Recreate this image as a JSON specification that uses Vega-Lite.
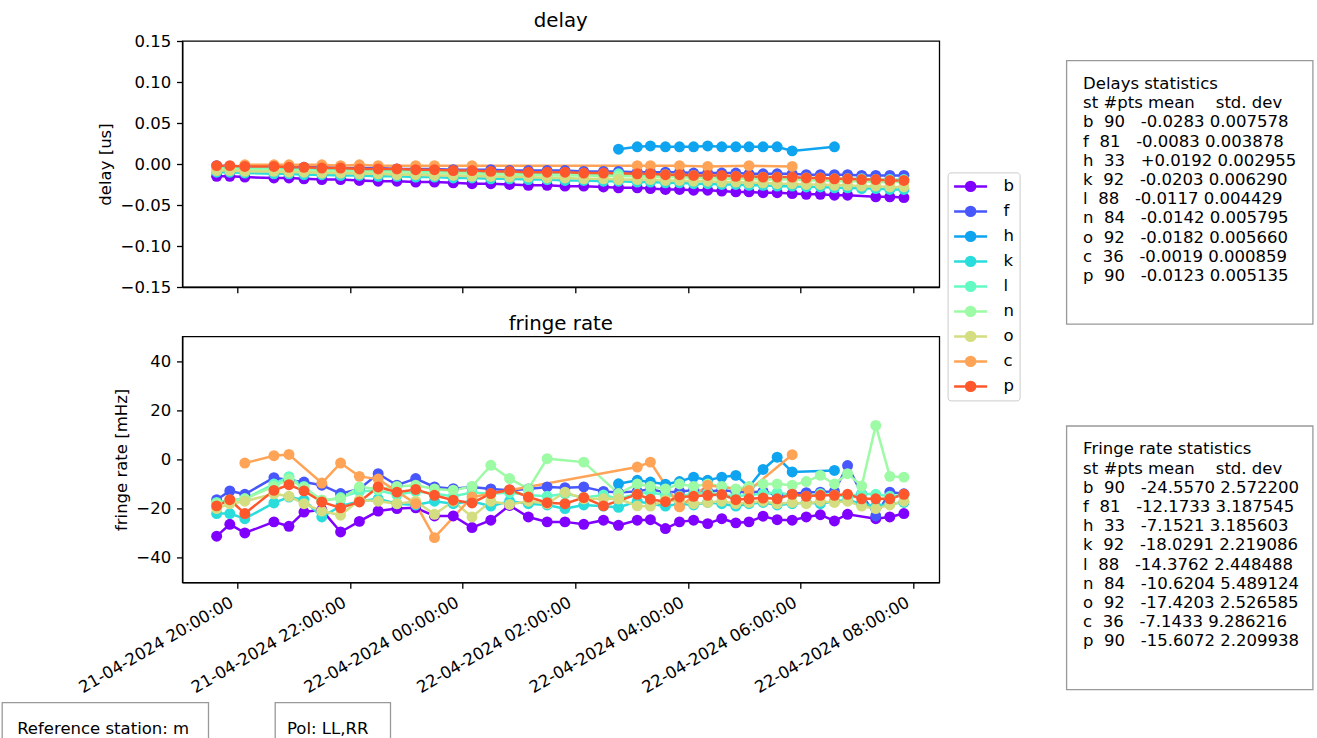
{
"$schema": "https://vega.github.io/schema/vega-lite/v6.json",
"padding": {"left": 1, "top": 10, "right": 0, "bottom": 0},
"spacing": 4.4,
"config": {
 "font": "DejaVu Sans",
 "view": {"stroke": null},
 "axis": {"grid": false, "domainColor": "black", "domainWidth": 1.3, "tickColor": "black", "tickWidth": 1.3, "tickSize": 5.8, "labelFontSize": 16.5, "labelColor": "black", "labelPadding": 5.8, "titleFontSize": 16.5, "titleFontWeight": "normal", "titleColor": "black", "titlePadding": 6.6},
 "title": {"fontSize": 19.8, "fontWeight": "normal", "color": "black", "offset": 2.4, "baseline": "alphabetic", "anchor": "middle"}
},
"datasets": {"obs": [
{"s":"b","t":"2024-04-21T19:38","d":-0.015,"r":-31.2},
{"s":"b","t":"2024-04-21T19:52","d":-0.015,"r":-26.4},
{"s":"b","t":"2024-04-21T20:08","d":-0.016,"r":-29.9},
{"s":"b","t":"2024-04-21T20:39","d":-0.017,"r":-25.4},
{"s":"b","t":"2024-04-21T20:55","d":-0.017,"r":-27.2},
{"s":"b","t":"2024-04-21T21:11","d":-0.018,"r":-21.4},
{"s":"b","t":"2024-04-21T21:30","d":-0.019,"r":-20.5},
{"s":"b","t":"2024-04-21T21:50","d":-0.019,"r":-29.5},
{"s":"b","t":"2024-04-21T22:10","d":-0.020,"r":-25.2},
{"s":"b","t":"2024-04-21T22:30","d":-0.021,"r":-21.0},
{"s":"b","t":"2024-04-21T22:50","d":-0.021,"r":-20.0},
{"s":"b","t":"2024-04-21T23:10","d":-0.022,"r":-19.7},
{"s":"b","t":"2024-04-21T23:30","d":-0.022,"r":-23.0},
{"s":"b","t":"2024-04-21T23:50","d":-0.023,"r":-23.0},
{"s":"b","t":"2024-04-22T00:10","d":-0.024,"r":-27.7},
{"s":"b","t":"2024-04-22T00:30","d":-0.024,"r":-24.7},
{"s":"b","t":"2024-04-22T00:50","d":-0.025,"r":-18.7},
{"s":"b","t":"2024-04-22T01:10","d":-0.026,"r":-23.4},
{"s":"b","t":"2024-04-22T01:30","d":-0.026,"r":-25.4},
{"s":"b","t":"2024-04-22T01:49","d":-0.027,"r":-25.4},
{"s":"b","t":"2024-04-22T02:09","d":-0.027,"r":-26.4},
{"s":"b","t":"2024-04-22T02:30","d":-0.028,"r":-24.7},
{"s":"b","t":"2024-04-22T02:46","d":-0.029,"r":-26.8},
{"s":"b","t":"2024-04-22T03:06","d":-0.029,"r":-24.7},
{"s":"b","t":"2024-04-22T03:20","d":-0.030,"r":-24.5},
{"s":"b","t":"2024-04-22T03:36","d":-0.031,"r":-28.1},
{"s":"b","t":"2024-04-22T03:51","d":-0.031,"r":-25.4},
{"s":"b","t":"2024-04-22T04:06","d":-0.032,"r":-24.7},
{"s":"b","t":"2024-04-22T04:21","d":-0.032,"r":-26.1},
{"s":"b","t":"2024-04-22T04:36","d":-0.033,"r":-24.1},
{"s":"b","t":"2024-04-22T04:51","d":-0.034,"r":-25.8},
{"s":"b","t":"2024-04-22T05:05","d":-0.034,"r":-25.4},
{"s":"b","t":"2024-04-22T05:20","d":-0.035,"r":-23.1},
{"s":"b","t":"2024-04-22T05:35","d":-0.035,"r":-24.5},
{"s":"b","t":"2024-04-22T05:51","d":-0.036,"r":-24.7},
{"s":"b","t":"2024-04-22T06:06","d":-0.037,"r":-23.4},
{"s":"b","t":"2024-04-22T06:21","d":-0.037,"r":-22.5},
{"s":"b","t":"2024-04-22T06:36","d":-0.038,"r":-25.0},
{"s":"b","t":"2024-04-22T06:50","d":-0.038,"r":-22.3},
{"s":"b","t":"2024-04-22T07:20","d":-0.040,"r":-24.1},
{"s":"b","t":"2024-04-22T07:35","d":-0.040,"r":-23.4},
{"s":"b","t":"2024-04-22T07:50","d":-0.041,"r":-22.0},
{"s":"f","t":"2024-04-21T19:38","d":-0.002,"r":-16.4},
{"s":"f","t":"2024-04-21T19:52","d":-0.003,"r":-12.8},
{"s":"f","t":"2024-04-21T20:08","d":-0.003,"r":-14.2},
{"s":"f","t":"2024-04-21T20:39","d":-0.003,"r":-7.4},
{"s":"f","t":"2024-04-21T20:55","d":-0.004,"r":-8.5},
{"s":"f","t":"2024-04-21T21:11","d":-0.004,"r":-9.2},
{"s":"f","t":"2024-04-21T21:30","d":-0.004,"r":-10.5},
{"s":"f","t":"2024-04-21T21:50","d":-0.005,"r":-13.9},
{"s":"f","t":"2024-04-21T22:10","d":-0.005,"r":-12.0},
{"s":"f","t":"2024-04-21T22:30","d":-0.005,"r":-5.8},
{"s":"f","t":"2024-04-21T22:50","d":-0.006,"r":-10.5},
{"s":"f","t":"2024-04-21T23:10","d":-0.006,"r":-7.8},
{"s":"f","t":"2024-04-21T23:30","d":-0.006,"r":-11.2},
{"s":"f","t":"2024-04-21T23:50","d":-0.007,"r":-11.9},
{"s":"f","t":"2024-04-22T00:10","d":-0.007,"r":-11.2},
{"s":"f","t":"2024-04-22T00:30","d":-0.007,"r":-12.0},
{"s":"f","t":"2024-04-22T00:50","d":-0.008,"r":-12.5},
{"s":"f","t":"2024-04-22T01:10","d":-0.008,"r":-12.0},
{"s":"f","t":"2024-04-22T01:30","d":-0.008,"r":-11.2},
{"s":"f","t":"2024-04-22T01:49","d":-0.008,"r":-11.5},
{"s":"f","t":"2024-04-22T02:09","d":-0.009,"r":-11.2},
{"s":"f","t":"2024-04-22T02:30","d":-0.009,"r":-13.0},
{"s":"f","t":"2024-04-22T02:46","d":-0.009,"r":-13.5},
{"s":"f","t":"2024-04-22T03:06","d":-0.010,"r":-13.0},
{"s":"f","t":"2024-04-22T03:20","d":-0.010,"r":-12.0},
{"s":"f","t":"2024-04-22T03:36","d":-0.010,"r":-13.5},
{"s":"f","t":"2024-04-22T03:51","d":-0.010,"r":-13.0},
{"s":"f","t":"2024-04-22T04:06","d":-0.011,"r":-12.5},
{"s":"f","t":"2024-04-22T04:21","d":-0.011,"r":-13.0},
{"s":"f","t":"2024-04-22T04:36","d":-0.011,"r":-12.5},
{"s":"f","t":"2024-04-22T04:51","d":-0.011,"r":-13.0},
{"s":"f","t":"2024-04-22T05:05","d":-0.012,"r":-13.5},
{"s":"f","t":"2024-04-22T05:20","d":-0.012,"r":-13.0},
{"s":"f","t":"2024-04-22T05:35","d":-0.012,"r":-14.5},
{"s":"f","t":"2024-04-22T05:51","d":-0.012,"r":-14.0},
{"s":"f","t":"2024-04-22T06:06","d":-0.013,"r":-13.5},
{"s":"f","t":"2024-04-22T06:21","d":-0.013,"r":-13.3},
{"s":"f","t":"2024-04-22T06:36","d":-0.013,"r":-13.0},
{"s":"f","t":"2024-04-22T06:50","d":-0.013,"r":-2.5},
{"s":"f","t":"2024-04-22T07:05","d":-0.014,"r":-14.0},
{"s":"f","t":"2024-04-22T07:20","d":-0.014,"r":-23.0},
{"s":"f","t":"2024-04-22T07:35","d":-0.014,"r":-13.3},
{"s":"f","t":"2024-04-22T07:50","d":-0.014,"r":-14.0},
{"s":"h","t":"2024-04-22T02:46","d":0.018,"r":-9.9},
{"s":"h","t":"2024-04-22T03:06","d":0.021,"r":-8.5},
{"s":"h","t":"2024-04-22T03:20","d":0.022,"r":-9.2},
{"s":"h","t":"2024-04-22T03:36","d":0.021,"r":-10.1},
{"s":"h","t":"2024-04-22T03:51","d":0.021,"r":-9.0},
{"s":"h","t":"2024-04-22T04:06","d":0.021,"r":-7.2},
{"s":"h","t":"2024-04-22T04:21","d":0.022,"r":-8.5},
{"s":"h","t":"2024-04-22T04:36","d":0.021,"r":-7.2},
{"s":"h","t":"2024-04-22T04:51","d":0.021,"r":-6.5},
{"s":"h","t":"2024-04-22T05:05","d":0.021,"r":-11.2},
{"s":"h","t":"2024-04-22T05:20","d":0.021,"r":-4.1},
{"s":"h","t":"2024-04-22T05:35","d":0.021,"r":0.9},
{"s":"h","t":"2024-04-22T05:51","d":0.016,"r":-5.1},
{"s":"h","t":"2024-04-22T06:36","d":0.021,"r":-4.5},
{"s":"k","t":"2024-04-21T19:38","d":-0.010,"r":-22.0},
{"s":"k","t":"2024-04-21T19:52","d":-0.010,"r":-22.0},
{"s":"k","t":"2024-04-21T20:08","d":-0.011,"r":-24.1},
{"s":"k","t":"2024-04-21T20:39","d":-0.012,"r":-17.7},
{"s":"k","t":"2024-04-21T20:55","d":-0.012,"r":-15.3},
{"s":"k","t":"2024-04-21T21:11","d":-0.013,"r":-16.5},
{"s":"k","t":"2024-04-21T21:30","d":-0.013,"r":-23.4},
{"s":"k","t":"2024-04-21T21:50","d":-0.014,"r":-19.0},
{"s":"k","t":"2024-04-21T22:10","d":-0.014,"r":-17.0},
{"s":"k","t":"2024-04-21T22:30","d":-0.015,"r":-16.0},
{"s":"k","t":"2024-04-21T22:50","d":-0.015,"r":-18.0},
{"s":"k","t":"2024-04-21T23:10","d":-0.016,"r":-18.5},
{"s":"k","t":"2024-04-21T23:30","d":-0.016,"r":-17.0},
{"s":"k","t":"2024-04-21T23:50","d":-0.017,"r":-18.0},
{"s":"k","t":"2024-04-22T00:10","d":-0.017,"r":-17.0},
{"s":"k","t":"2024-04-22T00:30","d":-0.018,"r":-19.0},
{"s":"k","t":"2024-04-22T00:50","d":-0.018,"r":-17.0},
{"s":"k","t":"2024-04-22T01:10","d":-0.019,"r":-18.0},
{"s":"k","t":"2024-04-22T01:30","d":-0.019,"r":-18.5},
{"s":"k","t":"2024-04-22T01:49","d":-0.020,"r":-20.0},
{"s":"k","t":"2024-04-22T02:09","d":-0.020,"r":-18.5},
{"s":"k","t":"2024-04-22T02:30","d":-0.021,"r":-19.0},
{"s":"k","t":"2024-04-22T02:46","d":-0.021,"r":-19.5},
{"s":"k","t":"2024-04-22T03:06","d":-0.022,"r":-17.0},
{"s":"k","t":"2024-04-22T03:20","d":-0.022,"r":-18.0},
{"s":"k","t":"2024-04-22T03:36","d":-0.023,"r":-19.0},
{"s":"k","t":"2024-04-22T03:51","d":-0.023,"r":-18.0},
{"s":"k","t":"2024-04-22T04:06","d":-0.024,"r":-18.5},
{"s":"k","t":"2024-04-22T04:21","d":-0.024,"r":-17.5},
{"s":"k","t":"2024-04-22T04:36","d":-0.025,"r":-18.0},
{"s":"k","t":"2024-04-22T04:51","d":-0.025,"r":-19.0},
{"s":"k","t":"2024-04-22T05:05","d":-0.026,"r":-18.0},
{"s":"k","t":"2024-04-22T05:20","d":-0.026,"r":-17.5},
{"s":"k","t":"2024-04-22T05:35","d":-0.027,"r":-18.5},
{"s":"k","t":"2024-04-22T05:51","d":-0.027,"r":-18.0},
{"s":"k","t":"2024-04-22T06:06","d":-0.028,"r":-17.5},
{"s":"k","t":"2024-04-22T06:21","d":-0.028,"r":-18.0},
{"s":"k","t":"2024-04-22T06:36","d":-0.029,"r":-17.0},
{"s":"k","t":"2024-04-22T06:50","d":-0.029,"r":-16.5},
{"s":"k","t":"2024-04-22T07:05","d":-0.030,"r":-18.0},
{"s":"k","t":"2024-04-22T07:20","d":-0.030,"r":-19.0},
{"s":"k","t":"2024-04-22T07:35","d":-0.031,"r":-18.0},
{"s":"k","t":"2024-04-22T07:50","d":-0.031,"r":-17.5},
{"s":"l","t":"2024-04-21T19:38","d":-0.004,"r":-17.5},
{"s":"l","t":"2024-04-21T19:52","d":-0.004,"r":-16.5},
{"s":"l","t":"2024-04-21T20:08","d":-0.005,"r":-16.0},
{"s":"l","t":"2024-04-21T20:39","d":-0.005,"r":-10.0},
{"s":"l","t":"2024-04-21T20:55","d":-0.006,"r":-7.0},
{"s":"l","t":"2024-04-21T21:11","d":-0.006,"r":-11.0},
{"s":"l","t":"2024-04-21T21:30","d":-0.006,"r":-17.0},
{"s":"l","t":"2024-04-21T21:50","d":-0.007,"r":-15.5},
{"s":"l","t":"2024-04-21T22:10","d":-0.007,"r":-13.0},
{"s":"l","t":"2024-04-21T22:30","d":-0.008,"r":-12.5},
{"s":"l","t":"2024-04-21T22:50","d":-0.008,"r":-14.5},
{"s":"l","t":"2024-04-21T23:10","d":-0.008,"r":-13.0},
{"s":"l","t":"2024-04-21T23:30","d":-0.009,"r":-14.0},
{"s":"l","t":"2024-04-21T23:50","d":-0.009,"r":-15.0},
{"s":"l","t":"2024-04-22T00:10","d":-0.009,"r":-13.5},
{"s":"l","t":"2024-04-22T00:30","d":-0.010,"r":-14.0},
{"s":"l","t":"2024-04-22T00:50","d":-0.010,"r":-13.5},
{"s":"l","t":"2024-04-22T01:10","d":-0.011,"r":-14.5},
{"s":"l","t":"2024-04-22T01:30","d":-0.011,"r":-15.0},
{"s":"l","t":"2024-04-22T01:49","d":-0.011,"r":-14.0},
{"s":"l","t":"2024-04-22T02:09","d":-0.012,"r":-15.5},
{"s":"l","t":"2024-04-22T02:30","d":-0.012,"r":-14.5},
{"s":"l","t":"2024-04-22T02:46","d":-0.012,"r":-16.0},
{"s":"l","t":"2024-04-22T03:06","d":-0.013,"r":-14.0},
{"s":"l","t":"2024-04-22T03:20","d":-0.013,"r":-13.5},
{"s":"l","t":"2024-04-22T03:36","d":-0.013,"r":-14.5},
{"s":"l","t":"2024-04-22T03:51","d":-0.014,"r":-15.0},
{"s":"l","t":"2024-04-22T04:06","d":-0.014,"r":-14.0},
{"s":"l","t":"2024-04-22T04:21","d":-0.015,"r":-13.5},
{"s":"l","t":"2024-04-22T04:36","d":-0.015,"r":-14.5},
{"s":"l","t":"2024-04-22T04:51","d":-0.015,"r":-15.0},
{"s":"l","t":"2024-04-22T05:05","d":-0.016,"r":-14.5},
{"s":"l","t":"2024-04-22T05:20","d":-0.016,"r":-14.0},
{"s":"l","t":"2024-04-22T05:35","d":-0.016,"r":-13.5},
{"s":"l","t":"2024-04-22T05:51","d":-0.017,"r":-14.5},
{"s":"l","t":"2024-04-22T06:06","d":-0.017,"r":-15.0},
{"s":"l","t":"2024-04-22T06:21","d":-0.017,"r":-14.0},
{"s":"l","t":"2024-04-22T06:36","d":-0.018,"r":-14.5},
{"s":"l","t":"2024-04-22T06:50","d":-0.018,"r":-15.0},
{"s":"l","t":"2024-04-22T07:05","d":-0.018,"r":-14.0},
{"s":"l","t":"2024-04-22T07:20","d":-0.019,"r":-14.2},
{"s":"l","t":"2024-04-22T07:35","d":-0.019,"r":-15.0},
{"s":"l","t":"2024-04-22T07:50","d":-0.019,"r":-14.5},
{"s":"n","t":"2024-04-21T19:38","d":-0.006,"r":-18.0},
{"s":"n","t":"2024-04-21T19:52","d":-0.006,"r":-17.0},
{"s":"n","t":"2024-04-21T20:08","d":-0.007,"r":-16.0},
{"s":"n","t":"2024-04-21T20:39","d":-0.007,"r":-11.0},
{"s":"n","t":"2024-04-21T20:55","d":-0.008,"r":-8.0},
{"s":"n","t":"2024-04-21T21:11","d":-0.008,"r":-11.5},
{"s":"n","t":"2024-04-21T21:30","d":-0.009,"r":-16.5},
{"s":"n","t":"2024-04-21T21:50","d":-0.009,"r":-16.0},
{"s":"n","t":"2024-04-21T22:10","d":-0.009,"r":-11.2},
{"s":"n","t":"2024-04-21T22:30","d":-0.010,"r":-12.0},
{"s":"n","t":"2024-04-21T22:50","d":-0.010,"r":-11.0},
{"s":"n","t":"2024-04-21T23:10","d":-0.011,"r":-10.5},
{"s":"n","t":"2024-04-21T23:30","d":-0.011,"r":-12.0},
{"s":"n","t":"2024-04-21T23:50","d":-0.011,"r":-12.5},
{"s":"n","t":"2024-04-22T00:10","d":-0.012,"r":-11.0},
{"s":"n","t":"2024-04-22T00:30","d":-0.012,"r":-2.4},
{"s":"n","t":"2024-04-22T00:50","d":-0.013,"r":-7.8},
{"s":"n","t":"2024-04-22T01:10","d":-0.013,"r":-12.0},
{"s":"n","t":"2024-04-22T01:30","d":-0.014,"r":0.3},
{"s":"n","t":"2024-04-22T02:09","d":-0.014,"r":-1.1},
{"s":"n","t":"2024-04-22T02:46","d":-0.015,"r":-13.9},
{"s":"n","t":"2024-04-22T03:06","d":-0.015,"r":-10.0},
{"s":"n","t":"2024-04-22T03:20","d":-0.016,"r":-11.0},
{"s":"n","t":"2024-04-22T03:36","d":-0.016,"r":-12.0},
{"s":"n","t":"2024-04-22T03:51","d":-0.016,"r":-10.0},
{"s":"n","t":"2024-04-22T04:06","d":-0.017,"r":-11.0},
{"s":"n","t":"2024-04-22T04:21","d":-0.017,"r":-10.0},
{"s":"n","t":"2024-04-22T04:36","d":-0.018,"r":-11.0},
{"s":"n","t":"2024-04-22T04:51","d":-0.018,"r":-12.0},
{"s":"n","t":"2024-04-22T05:05","d":-0.018,"r":-11.0},
{"s":"n","t":"2024-04-22T05:20","d":-0.019,"r":-10.0},
{"s":"n","t":"2024-04-22T05:35","d":-0.019,"r":-10.0},
{"s":"n","t":"2024-04-22T05:51","d":-0.019,"r":-10.5},
{"s":"n","t":"2024-04-22T06:06","d":-0.020,"r":-9.0},
{"s":"n","t":"2024-04-22T06:21","d":-0.020,"r":-6.5},
{"s":"n","t":"2024-04-22T06:36","d":-0.021,"r":-10.0},
{"s":"n","t":"2024-04-22T06:50","d":-0.021,"r":-5.8},
{"s":"n","t":"2024-04-22T07:05","d":-0.021,"r":-10.8},
{"s":"n","t":"2024-04-22T07:20","d":-0.022,"r":13.8},
{"s":"n","t":"2024-04-22T07:35","d":-0.022,"r":-6.9},
{"s":"n","t":"2024-04-22T07:50","d":-0.022,"r":-7.2},
{"s":"o","t":"2024-04-21T19:38","d":-0.008,"r":-20.0},
{"s":"o","t":"2024-04-21T19:52","d":-0.008,"r":-18.0},
{"s":"o","t":"2024-04-21T20:08","d":-0.009,"r":-17.0},
{"s":"o","t":"2024-04-21T20:39","d":-0.009,"r":-14.0},
{"s":"o","t":"2024-04-21T20:55","d":-0.010,"r":-15.0},
{"s":"o","t":"2024-04-21T21:11","d":-0.010,"r":-18.0},
{"s":"o","t":"2024-04-21T21:30","d":-0.011,"r":-21.0},
{"s":"o","t":"2024-04-21T21:50","d":-0.011,"r":-22.7},
{"s":"o","t":"2024-04-21T22:10","d":-0.012,"r":-16.5},
{"s":"o","t":"2024-04-21T22:30","d":-0.012,"r":-17.0},
{"s":"o","t":"2024-04-21T22:50","d":-0.013,"r":-18.0},
{"s":"o","t":"2024-04-21T23:10","d":-0.013,"r":-17.0},
{"s":"o","t":"2024-04-21T23:30","d":-0.014,"r":-22.3},
{"s":"o","t":"2024-04-21T23:50","d":-0.014,"r":-17.0},
{"s":"o","t":"2024-04-22T00:10","d":-0.015,"r":-23.4},
{"s":"o","t":"2024-04-22T00:30","d":-0.015,"r":-17.0},
{"s":"o","t":"2024-04-22T00:50","d":-0.016,"r":-18.3},
{"s":"o","t":"2024-04-22T01:10","d":-0.016,"r":-17.0},
{"s":"o","t":"2024-04-22T01:30","d":-0.017,"r":-18.0},
{"s":"o","t":"2024-04-22T01:49","d":-0.017,"r":-13.3},
{"s":"o","t":"2024-04-22T02:09","d":-0.018,"r":-16.0},
{"s":"o","t":"2024-04-22T02:30","d":-0.018,"r":-16.0},
{"s":"o","t":"2024-04-22T02:46","d":-0.019,"r":-16.0},
{"s":"o","t":"2024-04-22T03:06","d":-0.019,"r":-18.9},
{"s":"o","t":"2024-04-22T03:20","d":-0.019,"r":-19.0},
{"s":"o","t":"2024-04-22T03:36","d":-0.020,"r":-16.5},
{"s":"o","t":"2024-04-22T03:51","d":-0.020,"r":-17.0},
{"s":"o","t":"2024-04-22T04:06","d":-0.021,"r":-18.0},
{"s":"o","t":"2024-04-22T04:21","d":-0.021,"r":-17.5},
{"s":"o","t":"2024-04-22T04:36","d":-0.022,"r":-17.0},
{"s":"o","t":"2024-04-22T04:51","d":-0.022,"r":-18.0},
{"s":"o","t":"2024-04-22T05:05","d":-0.023,"r":-17.5},
{"s":"o","t":"2024-04-22T05:20","d":-0.023,"r":-17.0},
{"s":"o","t":"2024-04-22T05:35","d":-0.024,"r":-18.0},
{"s":"o","t":"2024-04-22T05:51","d":-0.024,"r":-17.5},
{"s":"o","t":"2024-04-22T06:06","d":-0.025,"r":-18.0},
{"s":"o","t":"2024-04-22T06:21","d":-0.025,"r":-17.0},
{"s":"o","t":"2024-04-22T06:36","d":-0.026,"r":-17.5},
{"s":"o","t":"2024-04-22T06:50","d":-0.026,"r":-17.0},
{"s":"o","t":"2024-04-22T07:05","d":-0.027,"r":-19.0},
{"s":"o","t":"2024-04-22T07:20","d":-0.027,"r":-20.0},
{"s":"o","t":"2024-04-22T07:35","d":-0.028,"r":-18.5},
{"s":"o","t":"2024-04-22T07:50","d":-0.028,"r":-17.0},
{"s":"c","t":"2024-04-21T20:08","d":-0.001,"r":-1.5},
{"s":"c","t":"2024-04-21T20:39","d":-0.001,"r":1.5},
{"s":"c","t":"2024-04-21T20:55","d":-0.001,"r":2.0},
{"s":"c","t":"2024-04-21T21:30","d":-0.001,"r":-9.6},
{"s":"c","t":"2024-04-21T21:50","d":-0.002,"r":-1.5},
{"s":"c","t":"2024-04-21T22:10","d":-0.001,"r":-6.9},
{"s":"c","t":"2024-04-21T22:30","d":-0.002,"r":-8.0},
{"s":"c","t":"2024-04-21T23:10","d":-0.002,"r":-18.0},
{"s":"c","t":"2024-04-21T23:30","d":-0.002,"r":-31.8},
{"s":"c","t":"2024-04-22T00:10","d":-0.002,"r":-15.3},
{"s":"c","t":"2024-04-22T03:06","d":-0.002,"r":-3.1},
{"s":"c","t":"2024-04-22T03:20","d":-0.002,"r":-1.1},
{"s":"c","t":"2024-04-22T03:51","d":-0.002,"r":-19.3},
{"s":"c","t":"2024-04-22T04:21","d":-0.003,"r":-10.5},
{"s":"c","t":"2024-04-22T05:05","d":-0.002,"r":-12.6},
{"s":"c","t":"2024-04-22T05:51","d":-0.003,"r":1.9},
{"s":"p","t":"2024-04-21T19:38","d":-0.002,"r":-18.9},
{"s":"p","t":"2024-04-21T19:52","d":-0.002,"r":-16.4},
{"s":"p","t":"2024-04-21T20:08","d":-0.003,"r":-22.0},
{"s":"p","t":"2024-04-21T20:39","d":-0.003,"r":-12.6},
{"s":"p","t":"2024-04-21T20:55","d":-0.004,"r":-10.3},
{"s":"p","t":"2024-04-21T21:11","d":-0.004,"r":-12.8},
{"s":"p","t":"2024-04-21T21:30","d":-0.005,"r":-17.3},
{"s":"p","t":"2024-04-21T21:50","d":-0.005,"r":-19.7},
{"s":"p","t":"2024-04-21T22:10","d":-0.006,"r":-17.3},
{"s":"p","t":"2024-04-21T22:30","d":-0.006,"r":-11.2},
{"s":"p","t":"2024-04-21T22:50","d":-0.006,"r":-13.3},
{"s":"p","t":"2024-04-21T23:10","d":-0.007,"r":-12.2},
{"s":"p","t":"2024-04-21T23:30","d":-0.007,"r":-14.6},
{"s":"p","t":"2024-04-21T23:50","d":-0.008,"r":-16.6},
{"s":"p","t":"2024-04-22T00:10","d":-0.008,"r":-17.7},
{"s":"p","t":"2024-04-22T00:30","d":-0.009,"r":-13.9},
{"s":"p","t":"2024-04-22T00:50","d":-0.009,"r":-12.3},
{"s":"p","t":"2024-04-22T01:10","d":-0.010,"r":-15.3},
{"s":"p","t":"2024-04-22T01:30","d":-0.010,"r":-17.6},
{"s":"p","t":"2024-04-22T01:49","d":-0.010,"r":-18.0},
{"s":"p","t":"2024-04-22T02:09","d":-0.011,"r":-15.5},
{"s":"p","t":"2024-04-22T02:30","d":-0.011,"r":-18.9},
{"s":"p","t":"2024-04-22T03:06","d":-0.012,"r":-14.2},
{"s":"p","t":"2024-04-22T03:20","d":-0.012,"r":-16.2},
{"s":"p","t":"2024-04-22T03:36","d":-0.013,"r":-17.2},
{"s":"p","t":"2024-04-22T03:51","d":-0.013,"r":-15.3},
{"s":"p","t":"2024-04-22T04:06","d":-0.014,"r":-15.0},
{"s":"p","t":"2024-04-22T04:21","d":-0.014,"r":-14.6},
{"s":"p","t":"2024-04-22T04:36","d":-0.014,"r":-14.3},
{"s":"p","t":"2024-04-22T04:51","d":-0.015,"r":-16.4},
{"s":"p","t":"2024-04-22T05:05","d":-0.015,"r":-16.0},
{"s":"p","t":"2024-04-22T05:20","d":-0.016,"r":-15.7},
{"s":"p","t":"2024-04-22T05:35","d":-0.016,"r":-16.0},
{"s":"p","t":"2024-04-22T05:51","d":-0.016,"r":-14.2},
{"s":"p","t":"2024-04-22T06:06","d":-0.017,"r":-15.0},
{"s":"p","t":"2024-04-22T06:21","d":-0.017,"r":-14.6},
{"s":"p","t":"2024-04-22T06:36","d":-0.018,"r":-14.6},
{"s":"p","t":"2024-04-22T06:50","d":-0.018,"r":-14.2},
{"s":"p","t":"2024-04-22T07:05","d":-0.019,"r":-16.0},
{"s":"p","t":"2024-04-22T07:20","d":-0.019,"r":-16.0},
{"s":"p","t":"2024-04-22T07:35","d":-0.020,"r":-16.0},
{"s":"p","t":"2024-04-22T07:50","d":-0.020,"r":-14.2}
]},
"vconcat": [
 {"spacing": 72.3, "hconcat": [
  {"width": 1, "height": 1, "data": {"values": [{}]}, "mark": {"type": "text", "text": ""}},
  {"spacing": 125.1, "hconcat": [
   {"spacing": 49.4, "bounds": "flush", "vconcat": [
    {
     "width": 757, "height": 246,
     "title": {"text": "delay"},
     "view": {"stroke": "black", "strokeWidth": 1.3},
     "data": {"name": "obs"},
     "mark": {"type": "line", "strokeWidth": 2.5, "point": {"filled": true, "size": 120, "opacity": 1}},
     "encoding": {
      "x": {"field": "t", "type": "temporal",
            "scale": {"domain": [{"year":2024,"month":4,"date":21,"hours":19,"minutes":1,"seconds":24},{"year":2024,"month":4,"date":22,"hours":8,"minutes":27,"seconds":42}]},
            "axis": {"title": null, "labels": false,
                     "values": [{"year":2024,"month":4,"date":21,"hours":20},{"year":2024,"month":4,"date":21,"hours":22},{"year":2024,"month":4,"date":22,"hours":0},{"year":2024,"month":4,"date":22,"hours":2},{"year":2024,"month":4,"date":22,"hours":4},{"year":2024,"month":4,"date":22,"hours":6},{"year":2024,"month":4,"date":22,"hours":8}]}},
      "y": {"field": "d", "type": "quantitative", "scale": {"domain": [-0.15, 0.15], "nice": false},
            "axis": {"title": "delay [us]", "values": [-0.15, -0.1, -0.05, 0, 0.05, 0.1, 0.15], "format": ".2f"}},
      "color": {"field": "s", "type": "nominal",
                "scale": {"domain": ["b","f","h","k","l","n","o","c","p"], "range": ["#8000ff","#4757fb","#0ea4f0","#2adddd","#63fbc3","#9cfba4","#d4dd80","#ffa457","#ff572c"]},
                "legend": {"orient": "none", "legendX": 945.6, "legendY": 131.4, "title": null, "padding": 5, "strokeColor": "#cccccc", "fillColor": "white", "cornerRadius": 3,
                           "symbolType": "M-1,0L1,0M0.27,0A0.27,0.27,0,1,1,-0.27,0A0.27,0.27,0,1,1,0.27,0", "symbolSize": 1089, "symbolStrokeWidth": 2.5,
                           "clipHeight": 18, "rowPadding": 7, "labelFontSize": 16.5, "labelColor": "black", "labelOffset": 15,
                           "encode": {"symbols": {"update": {"fill": {"scale": "color", "field": "value"}, "stroke": {"scale": "color", "field": "value"}, "opacity": {"value": 1}}}}}}
     }
    },
    {
     "width": 757, "height": 246,
     "title": {"text": "fringe rate"},
     "view": {"stroke": "black", "strokeWidth": 1.3},
     "data": {"name": "obs"},
     "mark": {"type": "line", "strokeWidth": 2.5, "point": {"filled": true, "size": 120, "opacity": 1}},
     "encoding": {
      "x": {"field": "t", "type": "temporal",
            "scale": {"domain": [{"year":2024,"month":4,"date":21,"hours":19,"minutes":1,"seconds":24},{"year":2024,"month":4,"date":22,"hours":8,"minutes":27,"seconds":42}]},
            "axis": {"title": null, "format": "%d-%m-%Y %H:%M:%S", "labelAngle": -30, "labelAlign": "right", "labelBaseline": "top", "labelOffset": -9.6, "labelOverlap": false, "labelFlush": false, "labelLimit": 400,
                     "values": [{"year":2024,"month":4,"date":21,"hours":20},{"year":2024,"month":4,"date":21,"hours":22},{"year":2024,"month":4,"date":22,"hours":0},{"year":2024,"month":4,"date":22,"hours":2},{"year":2024,"month":4,"date":22,"hours":4},{"year":2024,"month":4,"date":22,"hours":6},{"year":2024,"month":4,"date":22,"hours":8}]}},
      "y": {"field": "r", "type": "quantitative", "scale": {"domain": [-50, 50], "nice": false},
            "axis": {"title": "fringe rate [mHz]", "values": [-40, -20, 0, 20, 40]}},
      "color": {"field": "s", "type": "nominal",
                "scale": {"domain": ["b","f","h","k","l","n","o","c","p"], "range": ["#8000ff","#4757fb","#0ea4f0","#2adddd","#63fbc3","#9cfba4","#d4dd80","#ffa457","#ff572c"]},
                "legend": {"orient": "none", "legendX": 945.6, "legendY": 131.4, "title": null, "padding": 5, "strokeColor": "#cccccc", "fillColor": "white", "cornerRadius": 3,
                           "symbolType": "M-1,0L1,0M0.27,0A0.27,0.27,0,1,1,-0.27,0A0.27,0.27,0,1,1,0.27,0", "symbolSize": 1089, "symbolStrokeWidth": 2.5,
                           "clipHeight": 18, "rowPadding": 7, "labelFontSize": 16.5, "labelColor": "black", "labelOffset": 15,
                           "encode": {"symbols": {"update": {"fill": {"scale": "color", "field": "value"}, "stroke": {"scale": "color", "field": "value"}, "opacity": {"value": 1}}}}}}
     }
    }
   ]},
   {"spacing": 18.4, "bounds": "flush", "vconcat": [
    {"width": 1, "height": 1, "data": {"values": [{}]}, "mark": {"type": "text", "text": ""}},
    {"spacing": 101.4, "bounds": "flush", "vconcat": [
     {
      "width": 246.3, "height": 263.6,
      "view": {"stroke": "#999999", "strokeWidth": 1.3, "fill": "white"},
      "data": {"values": [
       {"i": 0, "txt": "Delays statistics"},
       {"i": 1, "txt": "st #pts mean\u00a0\u00a0\u00a0\u00a0std. dev"},
       {"i": 2, "txt": "b\u00a0\u00a090\u00a0\u00a0\u00a0-0.0283 0.007578"},
       {"i": 3, "txt": "f\u00a0\u00a081\u00a0\u00a0\u00a0-0.0083 0.003878"},
       {"i": 4, "txt": "h\u00a0\u00a033\u00a0\u00a0\u00a0+0.0192 0.002955"},
       {"i": 5, "txt": "k\u00a0\u00a092\u00a0\u00a0\u00a0-0.0203 0.006290"},
       {"i": 6, "txt": "l\u00a0\u00a088\u00a0\u00a0\u00a0-0.0117 0.004429"},
       {"i": 7, "txt": "n\u00a0\u00a084\u00a0\u00a0\u00a0-0.0142 0.005795"},
       {"i": 8, "txt": "o\u00a0\u00a092\u00a0\u00a0\u00a0-0.0182 0.005660"},
       {"i": 9, "txt": "c\u00a0\u00a036\u00a0\u00a0\u00a0-0.0019 0.000859"},
       {"i": 10, "txt": "p\u00a0\u00a090\u00a0\u00a0\u00a0-0.0123 0.005135"}
      ]},
      "mark": {"type": "text", "align": "left", "baseline": "alphabetic", "fontSize": 16.5, "color": "black"},
      "encoding": {
       "x": {"value": 16.7},
       "y": {"field": "i", "type": "quantitative", "scale": {"domain": [12.24, -1.49], "nice": false, "zero": false}, "axis": null},
       "text": {"field": "txt"}
      }
     },
     {
      "width": 246.3, "height": 263.6,
      "view": {"stroke": "#999999", "strokeWidth": 1.3, "fill": "white"},
      "data": {"values": [
       {"i": 0, "txt": "Fringe rate statistics"},
       {"i": 1, "txt": "st #pts mean\u00a0\u00a0\u00a0\u00a0std. dev"},
       {"i": 2, "txt": "b\u00a0\u00a090\u00a0\u00a0\u00a0-24.5570 2.572200"},
       {"i": 3, "txt": "f\u00a0\u00a081\u00a0\u00a0\u00a0-12.1733 3.187545"},
       {"i": 4, "txt": "h\u00a0\u00a033\u00a0\u00a0\u00a0-7.1521 3.185603"},
       {"i": 5, "txt": "k\u00a0\u00a092\u00a0\u00a0\u00a0-18.0291 2.219086"},
       {"i": 6, "txt": "l\u00a0\u00a088\u00a0\u00a0\u00a0-14.3762 2.448488"},
       {"i": 7, "txt": "n\u00a0\u00a084\u00a0\u00a0\u00a0-10.6204 5.489124"},
       {"i": 8, "txt": "o\u00a0\u00a092\u00a0\u00a0\u00a0-17.4203 2.526585"},
       {"i": 9, "txt": "c\u00a0\u00a036\u00a0\u00a0\u00a0-7.1433 9.286216"},
       {"i": 10, "txt": "p\u00a0\u00a090\u00a0\u00a0\u00a0-15.6072 2.209938"}
      ]},
      "mark": {"type": "text", "align": "left", "baseline": "alphabetic", "fontSize": 16.5, "color": "black"},
      "encoding": {
       "x": {"value": 16.7},
       "y": {"field": "i", "type": "quantitative", "scale": {"domain": [12.24, -1.49], "nice": false, "zero": false}, "axis": null},
       "text": {"field": "txt"}
      }
     }
    ]}
   ]}
  ]}
 ]},
 {"spacing": 66, "bounds": "flush", "hconcat": [
  {"width": 206.3, "height": 36,
   "view": {"stroke": "#999999", "strokeWidth": 1.3, "fill": "white"},
   "data": {"values": [{"txt": "Reference station: m"}]},
   "mark": {"type": "text", "fontSize": 16.5, "baseline": "alphabetic", "dy": 13.3, "dx": -2, "color": "black"},
   "encoding": {"text": {"field": "txt"}}},
  {"width": 115.3, "height": 36,
   "view": {"stroke": "#999999", "strokeWidth": 1.3, "fill": "white"},
   "data": {"values": [{"txt": "Pol: LL,RR"}]},
   "mark": {"type": "text", "fontSize": 16.5, "baseline": "alphabetic", "dy": 13.3, "dx": -5, "color": "black"},
   "encoding": {"text": {"field": "txt"}}}
 ]}
]
}
